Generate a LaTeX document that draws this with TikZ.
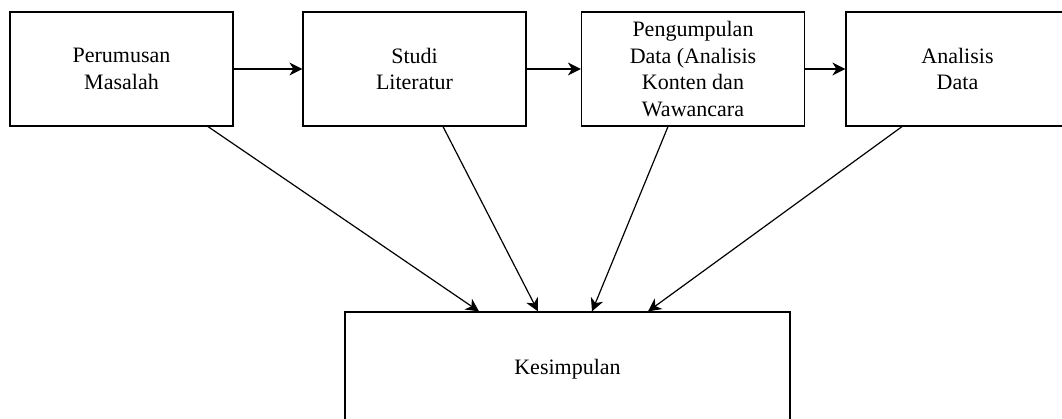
\documentclass[tikz,border=0pt]{standalone}
\usepackage{fontspec}
\setmainfont{Liberation Serif}
\usetikzlibrary{arrows.meta,positioning}
\begin{document}
\begin{tikzpicture}[x=1pt,y=-1pt,
  box/.style={draw,line width=1.2pt,minimum width=223pt,minimum height=114pt,inner sep=0pt,align=center,font=\fontsize{22}{26.6}\selectfont},
  arr/.style={-{Stealth[length=13pt,width=13pt,inset=4pt]},line width=1.2pt}]

\useasboundingbox (0,0) rectangle (1062,419);
\clip (0,0) rectangle (1062,419);
\node[box] (rumusan) at (121.5,69) {Perumusan\\Masalah};
\node[box] (studi) at (414.5,69) {Studi\\Literatur};
\node[box] (kumpul) at (693,69) {Pengumpulan\\Data (Analisis\\Konten dan\\Wawancara};
\node[box] (analisis) at (957.5,69) {Analisis\\Data};
\node[box,minimum width=445pt] (simpul) at (567.5,369) {Kesimpulan};
\draw[arr] (rumusan) -- (studi);
\draw[arr] (studi) -- (kumpul);
\draw[arr] (kumpul) -- (analisis);
\draw[arr] ([xshift=86.5pt]rumusan.south) -- ([xshift=-88.5pt]simpul.north);
\draw[arr] ([xshift=28.5pt]studi.south) -- ([xshift=-29.5pt]simpul.north);
\draw[arr] ([xshift=-25pt]kumpul.south) -- ([xshift=24.5pt]simpul.north);
\draw[arr] ([xshift=-55.5pt]analisis.south) -- ([xshift=80.5pt]simpul.north);
\end{tikzpicture}
\end{document}
